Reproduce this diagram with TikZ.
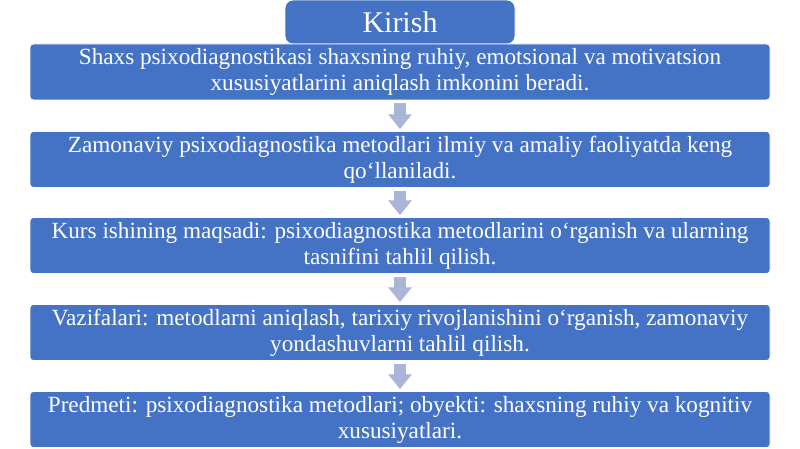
\documentclass[tikz,border=0pt]{standalone}
\usepackage{fontspec}
\setmainfont{Liberation Serif}
\usetikzlibrary{arrows.meta}
\usetikzlibrary{positioning}
\definecolor{BoxBlue}{HTML}{4472C4}
\definecolor{ArrowGrey}{HTML}{A9B6D8}

\begin{document}
\begin{tikzpicture}[x=0.75pt, y=-0.75pt,
  box/.style={draw=white, line width=0.6pt, fill=BoxBlue, rounded corners=2.5pt,
    text=white, align=center, inner sep=0pt,
    minimum width=555pt, minimum height=42pt,
    font=\fontsize{17.4}{19.5}\selectfont},
  titlebox/.style={box, minimum width=172.5pt, minimum height=33pt,
    rounded corners=6pt, font=\fontsize{22.5}{26}\selectfont},
  flow/.style={ArrowGrey, line width=9.5pt, -{Triangle[width=17pt, length=11pt]}}]
  \useasboundingbox (0,0) rectangle (800,449);

  \node[titlebox] (title) at (400,22) {Kirish};

  \node[box] (b1) at (400,72)
    {Shaxs psixodiagnostikasi shaxsning ruhiy, emotsional va motivatsion\\
     xususiyatlarini aniqlash imkonini beradi.};
  \node[box] (b2) at (400,159.5)
    {Zamonaviy psixodiagnostika metodlari ilmiy va amaliy faoliyatda keng\\
     qo‘llaniladi.};
  \node[box] (b3) at (400,245.5)
    {Kurs ishining maqsadi: psixodiagnostika metodlarini o‘rganish va ularning\\
     tasnifini tahlil qilish.};
  \node[box] (b4) at (400,332.5)
    {Vazifalari: metodlarni aniqlash, tarixiy rivojlanishini o‘rganish, zamonaviy\\
     yondashuvlarni tahlil qilish.};
  \node[box] (b5) at (400,419.5)
    {Predmeti: psixodiagnostika metodlari; obyekti: shaxsning ruhiy va kognitiv\\
     xususiyatlari.};

  \foreach \a/\b in {b1/b2,b2/b3,b3/b4,b4/b5}{%
    \draw[flow] ([yshift=-2pt]\a.south) -- ([yshift=1.5pt]\b.north);
  }
\end{tikzpicture}
\end{document}
